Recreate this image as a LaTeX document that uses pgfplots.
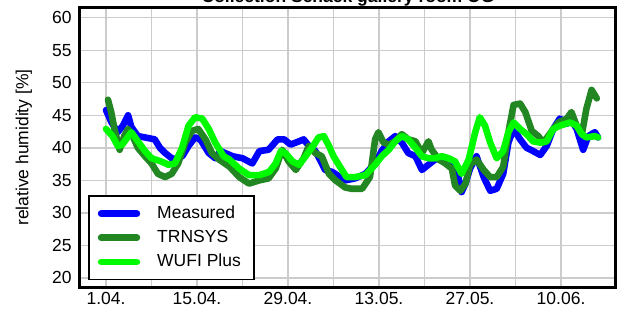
\documentclass[border=0pt]{standalone}
\usepackage{fontspec}
\setmainfont{Liberation Sans}
\usepackage{pgfplots}
\pgfplotsset{compat=1.18}
\definecolor{measblue}{RGB}{0,0,255}
\definecolor{trngreen}{RGB}{34,134,34}
\definecolor{wufigreen}{RGB}{0,250,0}
\begin{document}
\fontsize{8.75}{10.5}\selectfont
\begin{tikzpicture}
\begin{axis}[
  scale only axis,
  width=267.5pt, height=139.5pt,
  xmin=-4, xmax=78.3, ymin=18.6, ymax=61.5,
  axis line style={line width=1.5pt},
  xtick={0,14,28,42,56,70},
  xticklabels={1.04.,15.04.,29.04.,13.05.,27.05.,10.06.},
  minor xtick={7,21,35,49,63},
  ytick={20,25,...,60},
  grid=both,
  major grid style={gray!40,line width=0.7pt},
  minor grid style={gray!40,line width=0.7pt},
  major tick length=0pt, minor tick length=0pt,
  /pgf/number format/assume math mode=true,
  tick label style={font=\fontsize{8.75}{10.5}\selectfont},
  yticklabel style={inner sep=0pt,xshift=-4pt},
  xticklabel style={inner sep=0pt,yshift=-2.5pt},
  ylabel={relative humidity [\%]},
  ylabel style={at={(axis description cs:-0.105,0.5)},anchor=center,font=\fontsize{8.75}{10.5}\selectfont},
  legend style={at={(axis description cs:0.015,0.024)},anchor=south west,draw=black,line width=0.8pt,fill=white,
    font=\fontsize{8.75}{10.5}\selectfont, inner xsep=4.5pt, inner ysep=3pt, row sep=0.5pt,
    /tikz/every odd column/.append style={column sep=6.5pt}},
  legend cell align=left,
  legend image code/.code={\draw[#1,line width=3.3pt,line cap=round] (1.6pt,0pt) -- (19.5pt,0pt);},
  every axis plot/.append style={line width=3.3pt,line join=round,line cap=round},
]
\addplot[measblue] coordinates {
(0,45.8) (0.8,44) (1.8,42.4) (2.6,43.4) (3.4,45) (3.9,43.2) (4.9,41.8) (6,41.6) (7.5,41.3)
(8.3,40) (9.1,39.2) (10.1,38.4) (11,38.2) (11.8,38.8) (12.7,40.3) (13.7,41.6) (14.5,41.3)
(15.8,39.2) (16.8,38.4) (17.6,39.5) (19.5,38.7) (21,38.4) (22.5,37.6) (23.6,39.5) (25,39.7)
(26.4,41.3) (27.4,41.3) (28.4,40.5) (29.7,41) (30.4,41.3) (31.2,40.3) (32.2,39.5) (33,38)
(33.7,36.6) (34.8,36.3) (36,35.5) (36.8,35) (38.3,35.3) (39.9,36) (41.4,37.6) (42.4,39.5)
(43.5,41) (44.5,41.8) (45.5,40.8) (46.5,39.2) (47.6,38.7) (48.6,36.6) (49.6,37.4) (50.6,38.2)
(51.7,38.4) (52.7,37.6) (53.7,36.5) (54.2,35.5) (54.7,33.2) (55.3,34.5) (56,36.8) (57,38.7)
(58.1,35.5) (59.1,33.4) (60.1,33.7) (61.1,36) (61.9,40.8) (62.7,42.9) (63.7,41.3) (64.7,40)
(65.7,39.5) (66.8,38.9) (67.8,40.3) (68.8,42.9) (69.8,44.5) (70.9,43.7) (71.6,44.2) (72.4,42.9)
(73.4,39.7) (74.2,41.8) (75.2,42.4) (75.7,41.6)
};
\addlegendentry{Measured}
\addplot[trngreen] coordinates {
(0.3,47.4) (0.8,45.5) (1.3,42.9) (2.1,39.7) (2.8,41.8) (3.4,42.9) (4.1,41.8) (4.9,40) (6,38.7)
(7,37.6) (8,36) (9.1,35.5) (10.1,36) (11.1,37.6) (12.2,40.8) (13.2,42.6) (14.2,42.9) (15.3,41.3)
(16.3,39.2) (17.4,38.2) (19,37.1) (20.5,35.5) (22,34.5) (23.6,35) (25,35.3) (26.1,36.8) (27.1,39.7)
(28.1,37.9) (29.2,36.6) (30.4,38.4) (31.2,40.3) (32.2,39.2) (33.2,38.7) (34.3,36) (35.3,35)
(36.8,33.9) (37.8,33.7) (39.4,33.7) (40.6,35.5) (41.4,41.3) (41.9,42.4) (42.7,40.8) (43.5,40.5)
(44.5,41) (45.5,42.1) (46.5,41.3) (47.6,41) (48.6,39.2) (49.6,41) (50.1,39.7) (51.2,38.2)
(52.2,37.6) (53.2,36.8) (53.7,34.2) (54.5,33.4) (55.3,34.5) (56,37.4) (57,38.2) (58.1,36.6)
(59.1,35.5) (60.1,35.5) (61.1,37.1) (61.9,42.4) (62.7,46.6) (63.7,46.8) (64.5,45.5) (65.5,42.6)
(66.5,41.8) (67.3,40.8) (68.6,42.6) (69.6,43.9) (70.9,44.5) (71.6,45.5) (72.4,43.4) (73.2,42.1)
(73.9,46) (74.7,48.9) (75.5,47.6)
};
\addlegendentry{TRNSYS}
\addplot[wufigreen] coordinates {
(0,42.9) (1,41.8) (1.8,40.3) (2.5,40.5) (3.9,42.4) (4.9,41) (6,39.5) (7,38.4) (8.5,37.9)
(9.6,37.4) (10.6,37.6) (11.7,40) (12.7,43.4) (13.7,44.7) (14.8,44.5) (15.8,42.9) (16.8,40.8)
(18.1,38.7) (19,38.2) (20.5,36.8) (22,35.8) (23.6,35.8) (25.1,36.3) (26.1,37.6) (26.9,39.5)
(27.6,39.2) (28.7,37.9) (29.7,37.4) (30.7,38.7) (32,40.5) (32.7,41.6) (33.5,41.8) (34.3,40.3)
(35,38.7) (36.3,36.6) (37,35.5) (38.3,35.5) (39.9,35.8) (41.4,37.4) (42.4,38.7) (43.5,39.7)
(44.5,41) (45.5,41.8) (46.5,41.3) (47.6,40) (48.6,38.7) (49.6,38.4) (50.6,38.4) (51.7,38.7)
(52.7,38.4) (53.7,37.9) (54.7,36) (55.8,38.2) (56.8,42.4) (57.5,44.7) (58.3,43.4) (59.1,40.8)
(60.1,38.4) (61.1,39.5) (61.9,42.4) (62.7,43.9) (63.7,42.9) (64.7,42.1) (65.7,41) (66.8,40.8)
(67.8,41) (68.8,42.9) (69.8,43.4) (71.4,43.9) (72.4,43.4) (73.2,42.1) (73.9,41.6) (75.2,41.8)
(75.7,41.6)
};
\addlegendentry{WUFI Plus}
\end{axis}
\node[anchor=base,inner sep=0pt,font=\fontsize{8.75}{10.5}\selectfont\bfseries] at (134pt,142.1pt) {Collection Schack gallery room OG};
\pgfresetboundingbox
\path[use as bounding box] (-40pt,-12.2pt) rectangle (270pt,143.5pt);
\end{tikzpicture}
\end{document}
